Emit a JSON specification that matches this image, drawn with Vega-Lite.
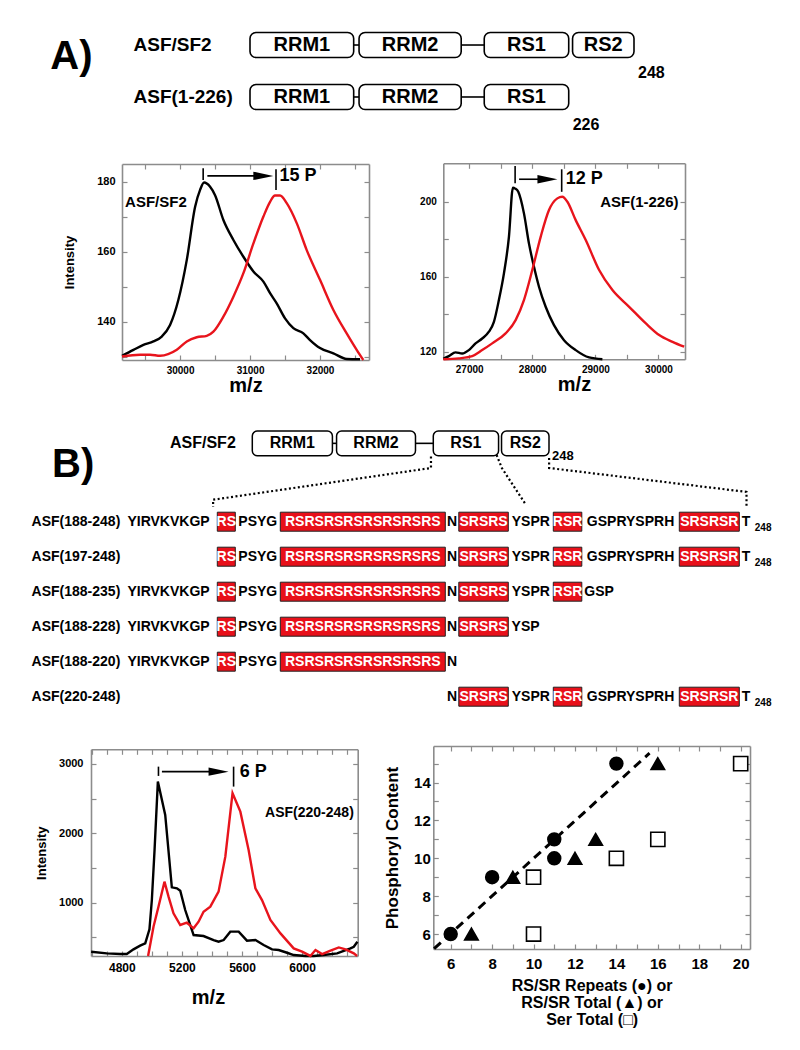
{
  "$schema": "https://vega.github.io/schema/vega-lite/v6.json",
  "width": 800,
  "height": 1050,
  "autosize": {"type": "none"},
  "padding": 0,
  "background": "white",
  "config": {
    "view": {"stroke": null},
    "font": "Liberation Sans",
    "axis": {
      "labelFont": "Liberation Sans", "labelFontWeight": "bold", "labelColor": "black", "labelFontSize": 10,
      "titleFont": "Liberation Sans", "titleFontWeight": "bold", "titleColor": "black",
      "domainColor": "#8c8c8c", "domainWidth": 1.6, "tickColor": "#8c8c8c", "tickWidth": 1.2, "tickSize": -5,
      "grid": false, "labelOverlap": false, "labelFlush": false
    },
    "text": {"font": "Liberation Sans", "fontWeight": "bold", "color": "black"}
  },
  "datasets": {
    "domains": [
      {"protein": "ASF/SF2", "domain": "RRM1", "from": 0, "to": 27},
      {"protein": "ASF/SF2", "domain": "RRM2", "from": 28.4, "to": 55},
      {"protein": "ASF/SF2", "domain": "RS1", "from": 61, "to": 83},
      {"protein": "ASF/SF2", "domain": "RS2", "from": 84, "to": 100},
      {"protein": "ASF(1-226)", "domain": "RRM1", "from": 0, "to": 27},
      {"protein": "ASF(1-226)", "domain": "RRM2", "from": 28.4, "to": 55},
      {"protein": "ASF(1-226)", "domain": "RS1", "from": 61, "to": 83}
    ],
    "linkers": [
      {"protein": "ASF/SF2", "from": 27, "to": 28.4},
      {"protein": "ASF/SF2", "from": 55, "to": 61},
      {"protein": "ASF(1-226)", "from": 27, "to": 28.4},
      {"protein": "ASF(1-226)", "from": 55, "to": 61}
    ],
    "termini": [
      {"protein": "ASF/SF2", "end": 100, "label": "248"},
      {"protein": "ASF(1-226)", "end": 83, "label": "226"}
    ],
    "segments": [
      {"construct": "ASF(188-248)", "seq": "YIRVKVKGP", "from": 188, "to": 197, "kind": "other"},
      {"construct": "ASF(188-248)", "seq": "RS", "from": 197, "to": 199, "kind": "repeat"},
      {"construct": "ASF(188-248)", "seq": "PSYG", "from": 199, "to": 203, "kind": "other"},
      {"construct": "ASF(188-248)", "seq": "RSRSRSRSRSRSRSRS", "from": 203, "to": 219, "kind": "repeat"},
      {"construct": "ASF(188-248)", "seq": "N", "from": 219, "to": 220, "kind": "other"},
      {"construct": "ASF(188-248)", "seq": "SRSRS", "from": 220, "to": 225, "kind": "repeat"},
      {"construct": "ASF(188-248)", "seq": "YSPR", "from": 225, "to": 229, "kind": "other"},
      {"construct": "ASF(188-248)", "seq": "RSR", "from": 229, "to": 232, "kind": "repeat"},
      {"construct": "ASF(188-248)", "seq": "GSPRYSPRH", "from": 232, "to": 241, "kind": "other"},
      {"construct": "ASF(188-248)", "seq": "SRSRSR", "from": 241, "to": 247, "kind": "repeat"},
      {"construct": "ASF(188-248)", "seq": "T", "from": 247, "to": 248, "kind": "other"},
      {"construct": "ASF(197-248)", "seq": "RS", "from": 197, "to": 199, "kind": "repeat"},
      {"construct": "ASF(197-248)", "seq": "PSYG", "from": 199, "to": 203, "kind": "other"},
      {"construct": "ASF(197-248)", "seq": "RSRSRSRSRSRSRSRS", "from": 203, "to": 219, "kind": "repeat"},
      {"construct": "ASF(197-248)", "seq": "N", "from": 219, "to": 220, "kind": "other"},
      {"construct": "ASF(197-248)", "seq": "SRSRS", "from": 220, "to": 225, "kind": "repeat"},
      {"construct": "ASF(197-248)", "seq": "YSPR", "from": 225, "to": 229, "kind": "other"},
      {"construct": "ASF(197-248)", "seq": "RSR", "from": 229, "to": 232, "kind": "repeat"},
      {"construct": "ASF(197-248)", "seq": "GSPRYSPRH", "from": 232, "to": 241, "kind": "other"},
      {"construct": "ASF(197-248)", "seq": "SRSRSR", "from": 241, "to": 247, "kind": "repeat"},
      {"construct": "ASF(197-248)", "seq": "T", "from": 247, "to": 248, "kind": "other"},
      {"construct": "ASF(188-235)", "seq": "YIRVKVKGP", "from": 188, "to": 197, "kind": "other"},
      {"construct": "ASF(188-235)", "seq": "RS", "from": 197, "to": 199, "kind": "repeat"},
      {"construct": "ASF(188-235)", "seq": "PSYG", "from": 199, "to": 203, "kind": "other"},
      {"construct": "ASF(188-235)", "seq": "RSRSRSRSRSRSRSRS", "from": 203, "to": 219, "kind": "repeat"},
      {"construct": "ASF(188-235)", "seq": "N", "from": 219, "to": 220, "kind": "other"},
      {"construct": "ASF(188-235)", "seq": "SRSRS", "from": 220, "to": 225, "kind": "repeat"},
      {"construct": "ASF(188-235)", "seq": "YSPR", "from": 225, "to": 229, "kind": "other"},
      {"construct": "ASF(188-235)", "seq": "RSR", "from": 229, "to": 232, "kind": "repeat"},
      {"construct": "ASF(188-235)", "seq": "GSP", "from": 232, "to": 235, "kind": "other"},
      {"construct": "ASF(188-228)", "seq": "YIRVKVKGP", "from": 188, "to": 197, "kind": "other"},
      {"construct": "ASF(188-228)", "seq": "RS", "from": 197, "to": 199, "kind": "repeat"},
      {"construct": "ASF(188-228)", "seq": "PSYG", "from": 199, "to": 203, "kind": "other"},
      {"construct": "ASF(188-228)", "seq": "RSRSRSRSRSRSRSRS", "from": 203, "to": 219, "kind": "repeat"},
      {"construct": "ASF(188-228)", "seq": "N", "from": 219, "to": 220, "kind": "other"},
      {"construct": "ASF(188-228)", "seq": "SRSRS", "from": 220, "to": 225, "kind": "repeat"},
      {"construct": "ASF(188-228)", "seq": "YSP", "from": 225, "to": 228, "kind": "other"},
      {"construct": "ASF(188-220)", "seq": "YIRVKVKGP", "from": 188, "to": 197, "kind": "other"},
      {"construct": "ASF(188-220)", "seq": "RS", "from": 197, "to": 199, "kind": "repeat"},
      {"construct": "ASF(188-220)", "seq": "PSYG", "from": 199, "to": 203, "kind": "other"},
      {"construct": "ASF(188-220)", "seq": "RSRSRSRSRSRSRSRS", "from": 203, "to": 219, "kind": "repeat"},
      {"construct": "ASF(188-220)", "seq": "N", "from": 219, "to": 220, "kind": "other"},
      {"construct": "ASF(220-248)", "seq": "N", "from": 219, "to": 220, "kind": "other"},
      {"construct": "ASF(220-248)", "seq": "SRSRS", "from": 220, "to": 225, "kind": "repeat"},
      {"construct": "ASF(220-248)", "seq": "YSPR", "from": 225, "to": 229, "kind": "other"},
      {"construct": "ASF(220-248)", "seq": "RSR", "from": 229, "to": 232, "kind": "repeat"},
      {"construct": "ASF(220-248)", "seq": "GSPRYSPRH", "from": 232, "to": 241, "kind": "other"},
      {"construct": "ASF(220-248)", "seq": "SRSRSR", "from": 241, "to": 247, "kind": "repeat"},
      {"construct": "ASF(220-248)", "seq": "T", "from": 247, "to": 248, "kind": "other"}
    ],
    "subscripts": [
      {"construct": "ASF(188-248)", "pos": 248, "label": "248"},
      {"construct": "ASF(197-248)", "pos": 248, "label": "248"},
      {"construct": "ASF(220-248)", "pos": 248, "label": "248"}
    ],
    "connectors": [
      {"path": 1, "step": 1, "pos": 217.35, "level": 0.03},
      {"path": 1, "step": 2, "pos": 217.35, "level": 0.25},
      {"path": 1, "step": 3, "pos": 196.6, "level": 0.86},
      {"path": 1, "step": 4, "pos": 196.6, "level": 1.0},
      {"path": 2, "step": 1, "pos": 223.6, "level": 0.0},
      {"path": 2, "step": 2, "pos": 224.1, "level": 0.25},
      {"path": 2, "step": 3, "pos": 226.3, "level": 0.93},
      {"path": 3, "step": 1, "pos": 228.6, "level": 0.06},
      {"path": 3, "step": 2, "pos": 228.6, "level": 0.25},
      {"path": 3, "step": 3, "pos": 247.4, "level": 0.71},
      {"path": 3, "step": 4, "pos": 247.4, "level": 1.0}
    ],
    "msFull": [
      {"mz": 29170, "intensity": 130.2, "series": "unphosphorylated"},
      {"mz": 29334, "intensity": 131.9, "series": "unphosphorylated"},
      {"mz": 29476, "intensity": 133.3, "series": "unphosphorylated"},
      {"mz": 29619, "intensity": 134.3, "series": "unphosphorylated"},
      {"mz": 29738, "intensity": 135.7, "series": "unphosphorylated"},
      {"mz": 29857, "intensity": 139.0, "series": "unphosphorylated"},
      {"mz": 29976, "intensity": 146.2, "series": "unphosphorylated"},
      {"mz": 30096, "intensity": 157.6, "series": "unphosphorylated"},
      {"mz": 30215, "intensity": 172.8, "series": "unphosphorylated"},
      {"mz": 30286, "intensity": 177.6, "series": "unphosphorylated"},
      {"mz": 30343, "intensity": 179.7, "series": "unphosphorylated"},
      {"mz": 30429, "intensity": 178.5, "series": "unphosphorylated"},
      {"mz": 30500, "intensity": 176.1, "series": "unphosphorylated"},
      {"mz": 30619, "intensity": 169.0, "series": "unphosphorylated"},
      {"mz": 30762, "intensity": 163.3, "series": "unphosphorylated"},
      {"mz": 30905, "intensity": 158.5, "series": "unphosphorylated"},
      {"mz": 31048, "intensity": 154.3, "series": "unphosphorylated"},
      {"mz": 31191, "intensity": 151.4, "series": "unphosphorylated"},
      {"mz": 31286, "intensity": 148.1, "series": "unphosphorylated"},
      {"mz": 31381, "intensity": 145.2, "series": "unphosphorylated"},
      {"mz": 31500, "intensity": 140.9, "series": "unphosphorylated"},
      {"mz": 31619, "intensity": 138.1, "series": "unphosphorylated"},
      {"mz": 31762, "intensity": 136.6, "series": "unphosphorylated"},
      {"mz": 31857, "intensity": 134.7, "series": "unphosphorylated"},
      {"mz": 32000, "intensity": 132.4, "series": "unphosphorylated"},
      {"mz": 32191, "intensity": 130.9, "series": "unphosphorylated"},
      {"mz": 32381, "intensity": 129.3, "series": "unphosphorylated"},
      {"mz": 32572, "intensity": 129.2, "series": "unphosphorylated"},
      {"mz": 29170, "intensity": 130.0, "series": "phosphorylated"},
      {"mz": 29429, "intensity": 130.5, "series": "phosphorylated"},
      {"mz": 29572, "intensity": 130.5, "series": "phosphorylated"},
      {"mz": 29715, "intensity": 130.2, "series": "phosphorylated"},
      {"mz": 29953, "intensity": 131.9, "series": "phosphorylated"},
      {"mz": 30096, "intensity": 134.3, "series": "phosphorylated"},
      {"mz": 30238, "intensity": 135.5, "series": "phosphorylated"},
      {"mz": 30381, "intensity": 135.9, "series": "phosphorylated"},
      {"mz": 30476, "intensity": 137.1, "series": "phosphorylated"},
      {"mz": 30619, "intensity": 141.4, "series": "phosphorylated"},
      {"mz": 30762, "intensity": 147.1, "series": "phosphorylated"},
      {"mz": 30905, "intensity": 153.8, "series": "phosphorylated"},
      {"mz": 31048, "intensity": 162.3, "series": "phosphorylated"},
      {"mz": 31191, "intensity": 170.0, "series": "phosphorylated"},
      {"mz": 31286, "intensity": 174.2, "series": "phosphorylated"},
      {"mz": 31357, "intensity": 176.0, "series": "phosphorylated"},
      {"mz": 31429, "intensity": 176.0, "series": "phosphorylated"},
      {"mz": 31524, "intensity": 173.8, "series": "phosphorylated"},
      {"mz": 31667, "intensity": 168.1, "series": "phosphorylated"},
      {"mz": 31810, "intensity": 160.4, "series": "phosphorylated"},
      {"mz": 32000, "intensity": 151.9, "series": "phosphorylated"},
      {"mz": 32191, "intensity": 143.3, "series": "phosphorylated"},
      {"mz": 32381, "intensity": 136.6, "series": "phosphorylated"},
      {"mz": 32524, "intensity": 131.9, "series": "phosphorylated"},
      {"mz": 32619, "intensity": 129.0, "series": "phosphorylated"}
    ],
    "ms226": [
      {"mz": 26590, "intensity": 116.3, "series": "unphosphorylated"},
      {"mz": 26678, "intensity": 117.7, "series": "unphosphorylated"},
      {"mz": 26784, "intensity": 119.7, "series": "unphosphorylated"},
      {"mz": 26889, "intensity": 119.1, "series": "unphosphorylated"},
      {"mz": 26995, "intensity": 120.9, "series": "unphosphorylated"},
      {"mz": 27101, "intensity": 124.5, "series": "unphosphorylated"},
      {"mz": 27206, "intensity": 127.1, "series": "unphosphorylated"},
      {"mz": 27313, "intensity": 130.7, "series": "unphosphorylated"},
      {"mz": 27392, "intensity": 136.0, "series": "unphosphorylated"},
      {"mz": 27471, "intensity": 147.6, "series": "unphosphorylated"},
      {"mz": 27551, "intensity": 161.8, "series": "unphosphorylated"},
      {"mz": 27630, "intensity": 181.3, "series": "unphosphorylated"},
      {"mz": 27693, "intensity": 207.5, "series": "unphosphorylated"},
      {"mz": 27730, "intensity": 207.0, "series": "unphosphorylated"},
      {"mz": 27778, "intensity": 205.3, "series": "unphosphorylated"},
      {"mz": 27868, "intensity": 193.8, "series": "unphosphorylated"},
      {"mz": 27947, "intensity": 177.8, "series": "unphosphorylated"},
      {"mz": 28027, "intensity": 165.3, "series": "unphosphorylated"},
      {"mz": 28106, "intensity": 154.7, "series": "unphosphorylated"},
      {"mz": 28212, "intensity": 144.0, "series": "unphosphorylated"},
      {"mz": 28344, "intensity": 134.2, "series": "unphosphorylated"},
      {"mz": 28503, "intensity": 126.2, "series": "unphosphorylated"},
      {"mz": 28688, "intensity": 120.9, "series": "unphosphorylated"},
      {"mz": 28900, "intensity": 117.0, "series": "unphosphorylated"},
      {"mz": 29111, "intensity": 116.0, "series": "unphosphorylated"},
      {"mz": 26590, "intensity": 116.0, "series": "phosphorylated"},
      {"mz": 26836, "intensity": 116.5, "series": "phosphorylated"},
      {"mz": 27048, "intensity": 117.7, "series": "phosphorylated"},
      {"mz": 27206, "intensity": 120.9, "series": "phosphorylated"},
      {"mz": 27365, "intensity": 124.5, "series": "phosphorylated"},
      {"mz": 27577, "intensity": 129.8, "series": "phosphorylated"},
      {"mz": 27736, "intensity": 136.9, "series": "phosphorylated"},
      {"mz": 27868, "intensity": 147.6, "series": "phosphorylated"},
      {"mz": 28000, "intensity": 163.6, "series": "phosphorylated"},
      {"mz": 28133, "intensity": 181.3, "series": "phosphorylated"},
      {"mz": 28265, "intensity": 195.6, "series": "phosphorylated"},
      {"mz": 28397, "intensity": 201.8, "series": "phosphorylated"},
      {"mz": 28476, "intensity": 202.7, "series": "phosphorylated"},
      {"mz": 28556, "intensity": 200.0, "series": "phosphorylated"},
      {"mz": 28688, "intensity": 190.2, "series": "phosphorylated"},
      {"mz": 28847, "intensity": 179.6, "series": "phosphorylated"},
      {"mz": 29059, "intensity": 163.6, "series": "phosphorylated"},
      {"mz": 29270, "intensity": 152.9, "series": "phosphorylated"},
      {"mz": 29535, "intensity": 144.0, "series": "phosphorylated"},
      {"mz": 29800, "intensity": 135.1, "series": "phosphorylated"},
      {"mz": 30011, "intensity": 128.9, "series": "phosphorylated"},
      {"mz": 30222, "intensity": 125.3, "series": "phosphorylated"},
      {"mz": 30407, "intensity": 122.7, "series": "phosphorylated"}
    ],
    "ms220": [
      {"mz": 4596, "intensity": 293, "series": "unphosphorylated"},
      {"mz": 4700, "intensity": 269, "series": "unphosphorylated"},
      {"mz": 4789, "intensity": 259, "series": "unphosphorylated"},
      {"mz": 4833, "intensity": 259, "series": "unphosphorylated"},
      {"mz": 4878, "intensity": 327, "series": "unphosphorylated"},
      {"mz": 4922, "intensity": 380, "series": "unphosphorylated"},
      {"mz": 4956, "intensity": 413, "series": "unphosphorylated"},
      {"mz": 4984, "intensity": 615, "series": "unphosphorylated"},
      {"mz": 5000, "intensity": 1038, "series": "unphosphorylated"},
      {"mz": 5018, "intensity": 1760, "series": "unphosphorylated"},
      {"mz": 5040, "intensity": 2746, "series": "unphosphorylated"},
      {"mz": 5089, "intensity": 2266, "series": "unphosphorylated"},
      {"mz": 5133, "intensity": 1221, "series": "unphosphorylated"},
      {"mz": 5167, "intensity": 1207, "series": "unphosphorylated"},
      {"mz": 5189, "intensity": 1173, "series": "unphosphorylated"},
      {"mz": 5222, "intensity": 894, "series": "unphosphorylated"},
      {"mz": 5278, "intensity": 533, "series": "unphosphorylated"},
      {"mz": 5344, "intensity": 519, "series": "unphosphorylated"},
      {"mz": 5411, "intensity": 461, "series": "unphosphorylated"},
      {"mz": 5444, "intensity": 437, "series": "unphosphorylated"},
      {"mz": 5478, "intensity": 461, "series": "unphosphorylated"},
      {"mz": 5522, "intensity": 582, "series": "unphosphorylated"},
      {"mz": 5578, "intensity": 582, "series": "unphosphorylated"},
      {"mz": 5633, "intensity": 452, "series": "unphosphorylated"},
      {"mz": 5689, "intensity": 461, "series": "unphosphorylated"},
      {"mz": 5744, "intensity": 389, "series": "unphosphorylated"},
      {"mz": 5800, "intensity": 327, "series": "unphosphorylated"},
      {"mz": 5844, "intensity": 317, "series": "unphosphorylated"},
      {"mz": 5900, "intensity": 278, "series": "unphosphorylated"},
      {"mz": 5944, "intensity": 245, "series": "unphosphorylated"},
      {"mz": 6022, "intensity": 232, "series": "unphosphorylated"},
      {"mz": 6078, "intensity": 232, "series": "unphosphorylated"},
      {"mz": 6144, "intensity": 245, "series": "unphosphorylated"},
      {"mz": 6233, "intensity": 269, "series": "unphosphorylated"},
      {"mz": 6322, "intensity": 341, "series": "unphosphorylated"},
      {"mz": 6344, "intensity": 365, "series": "unphosphorylated"},
      {"mz": 6368, "intensity": 437, "series": "unphosphorylated"},
      {"mz": 4975, "intensity": 232, "series": "phosphorylated"},
      {"mz": 5011, "intensity": 654, "series": "phosphorylated"},
      {"mz": 5044, "intensity": 942, "series": "phosphorylated"},
      {"mz": 5084, "intensity": 1303, "series": "phosphorylated"},
      {"mz": 5111, "intensity": 1087, "series": "phosphorylated"},
      {"mz": 5144, "intensity": 846, "series": "phosphorylated"},
      {"mz": 5189, "intensity": 678, "series": "phosphorylated"},
      {"mz": 5233, "intensity": 711, "series": "phosphorylated"},
      {"mz": 5278, "intensity": 630, "series": "phosphorylated"},
      {"mz": 5311, "intensity": 726, "series": "phosphorylated"},
      {"mz": 5344, "intensity": 870, "series": "phosphorylated"},
      {"mz": 5389, "intensity": 942, "series": "phosphorylated"},
      {"mz": 5444, "intensity": 1159, "series": "phosphorylated"},
      {"mz": 5489, "intensity": 1664, "series": "phosphorylated"},
      {"mz": 5537, "intensity": 2579, "series": "phosphorylated"},
      {"mz": 5589, "intensity": 2313, "series": "phosphorylated"},
      {"mz": 5644, "intensity": 1760, "series": "phosphorylated"},
      {"mz": 5689, "intensity": 1207, "series": "phosphorylated"},
      {"mz": 5733, "intensity": 1038, "series": "phosphorylated"},
      {"mz": 5789, "intensity": 750, "series": "phosphorylated"},
      {"mz": 5856, "intensity": 557, "series": "phosphorylated"},
      {"mz": 5944, "intensity": 341, "series": "phosphorylated"},
      {"mz": 6000, "intensity": 293, "series": "phosphorylated"},
      {"mz": 6055, "intensity": 232, "series": "phosphorylated"},
      {"mz": 6089, "intensity": 317, "series": "phosphorylated"},
      {"mz": 6133, "intensity": 259, "series": "phosphorylated"},
      {"mz": 6189, "intensity": 307, "series": "phosphorylated"},
      {"mz": 6244, "intensity": 355, "series": "phosphorylated"},
      {"mz": 6289, "intensity": 327, "series": "phosphorylated"},
      {"mz": 6344, "intensity": 269, "series": "phosphorylated"},
      {"mz": 6366, "intensity": 232, "series": "phosphorylated"}
    ],
    "phospho": [
      {"count": 6, "phos": 6, "measure": "RS/SR repeats"},
      {"count": 8, "phos": 9, "measure": "RS/SR repeats"},
      {"count": 11, "phos": 10, "measure": "RS/SR repeats"},
      {"count": 11, "phos": 11, "measure": "RS/SR repeats"},
      {"count": 14, "phos": 15, "measure": "RS/SR repeats"},
      {"count": 7, "phos": 6, "measure": "RS/SR total"},
      {"count": 9, "phos": 9, "measure": "RS/SR total"},
      {"count": 12, "phos": 10, "measure": "RS/SR total"},
      {"count": 13, "phos": 11, "measure": "RS/SR total"},
      {"count": 16, "phos": 15, "measure": "RS/SR total"},
      {"count": 10, "phos": 6, "measure": "Ser total"},
      {"count": 10, "phos": 9, "measure": "Ser total"},
      {"count": 14, "phos": 10, "measure": "Ser total"},
      {"count": 16, "phos": 11, "measure": "Ser total"},
      {"count": 20, "phos": 15, "measure": "Ser total"}
    ]
  },
  "layer": [
    {
      "data": {"name": "domains"},
      "encoding": {
        "y": {"field": "protein", "type": "nominal",
          "scale": {"domain": ["ASF/SF2", "ASF(1-226)"], "range": [19, 123], "paddingInner": 0.519, "paddingOuter": 0.26},
          "axis": {"orient": "left", "offset": -250, "domain": false, "ticks": false, "labelAlign": "left", "labelPadding": 117, "labelFontSize": 19, "title": null}}
      },
      "layer": [
        {"data": {"name": "linkers"}, "mark": {"type": "rule", "strokeWidth": 1.6, "color": "black"},
          "encoding": {"x": {"field": "from", "type": "quantitative", "scale": {"domain": [0, 100], "range": [250, 634], "zero": false, "nice": false}, "axis": null}, "x2": {"field": "to"}}},
        {"mark": {"type": "rect", "cornerRadius": 6, "fill": "white", "stroke": "black", "strokeWidth": 1.6},
          "encoding": {"x": {"field": "from", "type": "quantitative", "axis": null}, "x2": {"field": "to"}}},
        {"transform": [{"fold": ["from", "to"], "as": ["edge", "pos"]}],
          "mark": {"type": "text", "fontSize": 20},
          "encoding": {"x": {"aggregate": "mean", "field": "pos", "type": "quantitative", "axis": null}, "text": {"field": "domain"}}},
        {"data": {"name": "termini"}, "mark": {"type": "text", "align": "left", "dx": 4, "dy": 28, "fontSize": 16},
          "encoding": {"x": {"field": "end", "type": "quantitative", "axis": null}, "text": {"field": "label"}}},
        {"data": {"values": [{"panel": "A)"}]}, "mark": {"type": "text", "align": "left", "dy": 12, "fontSize": 40},
          "encoding": {"x": {"datum": -52, "type": "quantitative", "axis": null}, "y": {"datum": "ASF/SF2", "type": "nominal"}, "text": {"field": "panel"}}}
      ]
    },
    {
      "layer": [
        {"data": {"name": "msFull"}, "mark": {"type": "line", "strokeWidth": 2.4, "interpolate": "monotone"},
          "encoding": {
            "x": {"field": "mz", "type": "quantitative", "scale": {"domain": [29170, 32700], "range": [122, 369], "zero": false, "nice": false},
              "axis": {"orient": "bottom", "offset": -690, "values": [29500, 30000, 30500, 31000, 31500, 32000, 32500], "format": "d", "labelExpr": "datum.value % 1000 === 0 ? datum.label : ''", "labelPadding": 10, "labelFontSize": 10, "title": "m/z", "titleFontSize": 20, "titlePadding": 0}},
            "y": {"field": "intensity", "type": "quantitative", "scale": {"domain": [129, 185], "range": [360, 164], "zero": false, "nice": false},
              "axis": {"orient": "left", "offset": -122, "values": [130, 140, 150, 160, 170, 180], "format": "d", "labelExpr": "datum.value % 20 === 0 ? datum.label : ''", "labelPadding": 12, "labelFontSize": 11, "title": "Intensity", "titleFontSize": 13, "titlePadding": 20}},
            "color": {"field": "series", "type": "nominal", "scale": {"domain": ["unphosphorylated", "phosphorylated"], "range": ["black", "#e8141c"]}, "legend": null}
          }},
        {"data": {"values": [{"mz": 30330, "lo": 180.4, "hi": 183.8}, {"mz": 31371, "lo": 177.6, "hi": 183.5}]},
          "mark": {"type": "rule", "strokeWidth": 1.6, "color": "black"},
          "encoding": {
            "x": {"field": "mz", "type": "quantitative", "axis": {"orient": "top", "offset": -164, "values": [29500, 30000, 30500, 31000, 31500, 32000, 32500], "labels": false, "title": null}},
            "y": {"field": "lo", "type": "quantitative", "axis": {"orient": "right", "offset": -431, "values": [130, 140, 150, 160, 170, 180], "labels": false, "title": null}},
            "y2": {"field": "hi"}}},
        {"data": {"values": [{"from": 30390, "to": 31190, "level": 181.6}]},
          "layer": [
            {"mark": {"type": "rule", "strokeWidth": 1.6, "color": "black"},
              "encoding": {"x": {"field": "from", "type": "quantitative", "axis": null}, "x2": {"field": "to"}, "y": {"field": "level", "type": "quantitative", "axis": null}}},
            {"mark": {"type": "point", "shape": "M-1,-0.42L1,0L-1,0.42Z", "filled": true, "color": "black", "size": 400, "opacity": 1},
              "encoding": {"x": {"field": "to", "type": "quantitative", "axis": null}, "y": {"field": "level", "type": "quantitative", "axis": null}}}
          ]},
        {"data": {"values": [{"mz": 31420, "level": 181.6, "label": "15 P", "size": "big"}, {"mz": 29214, "level": 174.2, "label": "ASF/SF2", "size": "small"}]},
          "mark": {"type": "text", "align": "left", "baseline": "middle"},
          "encoding": {"x": {"field": "mz", "type": "quantitative", "axis": null}, "y": {"field": "level", "type": "quantitative", "axis": null}, "text": {"field": "label"},
            "size": {"field": "size", "type": "nominal", "scale": {"domain": ["big", "small"], "range": [18, 15]}, "legend": null}}}
      ],
      "resolve": {"axis": {"x": "independent", "y": "independent"}}
    },
    {
      "layer": [
        {"data": {"name": "ms226"}, "mark": {"type": "line", "strokeWidth": 2.4, "interpolate": "monotone"},
          "encoding": {
            "x": {"field": "mz", "type": "quantitative", "scale": {"domain": [26590, 30420], "range": [443.3, 685], "zero": false, "nice": false},
              "axis": {"orient": "bottom", "offset": -690.7, "values": [27000, 27500, 28000, 28500, 29000, 29500, 30000], "format": "d", "labelExpr": "datum.value % 1000 === 0 ? datum.label : ''", "labelPadding": 10, "labelFontSize": 10, "title": "m/z", "titleFontSize": 20, "titlePadding": 0, "titleX": 574}},
            "y": {"field": "intensity", "type": "quantitative", "scale": {"domain": [116, 220.5], "range": [359.3, 163.3], "zero": false, "nice": false},
              "axis": {"orient": "left", "offset": -443.3, "values": [120, 140, 160, 180, 200], "format": "d", "labelExpr": "datum.value % 40 === 0 ? datum.label : ''", "labelPadding": 12, "labelFontSize": 10, "title": null}},
            "color": {"field": "series", "type": "nominal", "scale": {"domain": ["unphosphorylated", "phosphorylated"], "range": ["black", "#e8141c"]}, "legend": null}
          }},
        {"data": {"values": [{"mz": 27728, "lo": 209.8, "hi": 219}, {"mz": 28466, "lo": 205.3, "hi": 217.3}]},
          "mark": {"type": "rule", "strokeWidth": 1.6, "color": "black"},
          "encoding": {
            "x": {"field": "mz", "type": "quantitative", "axis": {"orient": "top", "offset": -163.3, "values": [27000, 27500, 28000, 28500, 29000, 29500, 30000], "labels": false, "title": null}},
            "y": {"field": "lo", "type": "quantitative", "axis": {"orient": "right", "offset": -115, "values": [120, 140, 160, 180, 200], "labels": false, "title": null}},
            "y2": {"field": "hi"}}},
        {"data": {"values": [{"from": 27791, "to": 28240, "level": 212}]},
          "layer": [
            {"mark": {"type": "rule", "strokeWidth": 1.6, "color": "black"},
              "encoding": {"x": {"field": "from", "type": "quantitative", "axis": null}, "x2": {"field": "to"}, "y": {"field": "level", "type": "quantitative", "axis": null}}},
            {"mark": {"type": "point", "shape": "M-1,-0.42L1,0L-1,0.42Z", "filled": true, "color": "black", "size": 400, "opacity": 1},
              "encoding": {"x": {"field": "to", "type": "quantitative", "axis": null}, "y": {"field": "level", "type": "quantitative", "axis": null}}}
          ]},
        {"data": {"values": [{"mz": 28529, "level": 212, "label": "12 P"}]},
          "mark": {"type": "text", "align": "left", "baseline": "middle", "fontSize": 18},
          "encoding": {"x": {"field": "mz", "type": "quantitative", "axis": null}, "y": {"field": "level", "type": "quantitative", "axis": null}, "text": {"field": "label"}}},
        {"data": {"values": [{"mz": 30317, "level": 200, "label": "ASF(1-226)"}]},
          "mark": {"type": "text", "align": "right", "baseline": "middle", "fontSize": 15},
          "encoding": {"x": {"field": "mz", "type": "quantitative", "axis": null}, "y": {"field": "level", "type": "quantitative", "axis": null}, "text": {"field": "label"}}}
      ],
      "resolve": {"axis": {"x": "independent", "y": "independent"}}
    },
    {
      "data": {"name": "domains"},
      "transform": [{"filter": "datum.protein === 'ASF/SF2'"}],
      "encoding": {
        "y": {"field": "protein", "type": "nominal",
          "scale": {"domain": ["ASF/SF2"], "range": [431, 455.7], "paddingInner": 0, "paddingOuter": 0},
          "axis": {"orient": "left", "offset": -252.3, "domain": false, "ticks": false, "labelPadding": 17, "labelFontSize": 16, "title": null}}
      },
      "layer": [
        {"data": {"name": "linkers"}, "transform": [{"filter": "datum.protein === 'ASF/SF2'"}], "mark": {"type": "rule", "strokeWidth": 1.6, "color": "black"},
          "encoding": {"x": {"field": "from", "type": "quantitative", "scale": {"domain": [0, 100], "range": [252.3, 549], "zero": false, "nice": false}, "axis": null}, "x2": {"field": "to"}}},
        {"mark": {"type": "rect", "cornerRadius": 5, "fill": "white", "stroke": "black", "strokeWidth": 1.5},
          "encoding": {"x": {"field": "from", "type": "quantitative", "axis": null}, "x2": {"field": "to"}}},
        {"transform": [{"fold": ["from", "to"], "as": ["edge", "pos"]}],
          "mark": {"type": "text", "fontSize": 16},
          "encoding": {"x": {"aggregate": "mean", "field": "pos", "type": "quantitative", "axis": null}, "text": {"field": "domain"}}},
        {"data": {"name": "termini"}, "transform": [{"filter": "datum.protein === 'ASF/SF2'"}], "mark": {"type": "text", "align": "left", "dx": 3, "dy": 13, "fontSize": 13},
          "encoding": {"x": {"field": "end", "type": "quantitative", "axis": null}, "text": {"field": "label"}}},
        {"data": {"values": [{"panel": "B)"}]}, "mark": {"type": "text", "align": "left", "dy": 22, "fontSize": 40},
          "encoding": {"x": {"datum": -67.5, "type": "quantitative", "axis": null}, "y": {"datum": "ASF/SF2", "type": "nominal"}, "text": {"field": "panel"}}}
      ]
    },
    {
      "data": {"name": "connectors"},
      "mark": {"type": "line", "strokeDash": [2, 2.5], "strokeWidth": 2.2, "color": "black"},
      "encoding": {
        "x": {"field": "pos", "type": "quantitative", "scale": {"domain": [188, 248], "range": [122.8, 752.8], "zero": false, "nice": false}, "axis": null},
        "y": {"field": "level", "type": "quantitative", "scale": {"domain": [0, 1], "range": [455, 507], "zero": false, "nice": false}, "axis": null},
        "detail": {"field": "path", "type": "nominal"},
        "order": {"field": "step", "type": "quantitative"}
      }
    },
    {
      "data": {"name": "segments"},
      "encoding": {
        "y": {"field": "construct", "type": "nominal",
          "scale": {"domain": ["ASF(188-248)", "ASF(197-248)", "ASF(188-235)", "ASF(188-228)", "ASF(188-220)", "ASF(220-248)"], "range": [504.2, 714.2], "paddingInner": 0.457, "paddingOuter": 0.2286},
          "axis": {"orient": "left", "offset": -122.8, "domain": false, "ticks": false, "labelPadding": 3, "labelFontSize": 14, "title": null}}
      },
      "layer": [
        {"transform": [{"filter": "datum.kind === 'repeat'"}],
          "mark": {"type": "rect", "fill": "#e8101a", "stroke": "#222222", "strokeWidth": 1, "x2Offset": -3},
          "encoding": {"x": {"field": "from", "type": "quantitative", "scale": {"domain": [188, 248], "range": [122.8, 752.8], "zero": false, "nice": false}, "axis": null}, "x2": {"field": "to"}}},
        {"transform": [{"fold": ["from", "to"], "as": ["edge", "pos"]}],
          "mark": {"type": "text", "fontSize": 14, "dx": -1.5},
          "encoding": {"x": {"aggregate": "mean", "field": "pos", "type": "quantitative", "axis": null}, "text": {"field": "seq"},
            "color": {"field": "kind", "type": "nominal", "scale": {"domain": ["other", "repeat"], "range": ["black", "white"]}, "legend": null}}},
        {"data": {"name": "subscripts"}, "mark": {"type": "text", "align": "left", "dx": 2, "dy": 6, "fontSize": 10},
          "encoding": {"x": {"field": "pos", "type": "quantitative", "axis": null}, "text": {"field": "label"}}}
      ]
    },
    {
      "layer": [
        {"data": {"name": "ms220"}, "mark": {"type": "line", "strokeWidth": 2.4},
          "encoding": {
            "x": {"field": "mz", "type": "quantitative", "scale": {"domain": [4595, 6370], "range": [91, 357.7], "zero": false, "nice": false},
              "axis": {"orient": "bottom", "offset": -94, "values": [4600, 4700, 4800, 4900, 5000, 5100, 5200, 5300, 5400, 5500, 5600, 5700, 5800, 5900, 6000, 6100, 6200, 6300], "format": "d", "labelExpr": "datum.value % 400 === 0 ? datum.label : ''", "labelPadding": 11, "labelFontSize": 12, "title": "m/z", "titleFontSize": 20, "titlePadding": 14, "titleX": 208}},
            "y": {"field": "intensity", "type": "quantitative", "scale": {"domain": [231, 3212], "range": [956, 749.3], "zero": false, "nice": false},
              "axis": {"orient": "left", "offset": -91, "values": [500, 1000, 1500, 2000, 2500, 3000], "format": "d", "labelExpr": "datum.value % 1000 === 0 ? datum.label : ''", "labelPadding": 13, "labelFontSize": 11, "title": "Intensity", "titleFontSize": 13, "titlePadding": 10}},
            "color": {"field": "series", "type": "nominal", "scale": {"domain": ["unphosphorylated", "phosphorylated"], "range": ["black", "#e8141c"]}, "legend": null}
          }},
        {"data": {"values": [{"mz": 5044, "lo": 2828, "hi": 2962}, {"mz": 5544, "lo": 2674, "hi": 2962}]},
          "mark": {"type": "rule", "strokeWidth": 1.6, "color": "black"},
          "encoding": {
            "x": {"field": "mz", "type": "quantitative", "axis": {"orient": "top", "offset": -749.3, "values": [4600, 4700, 4800, 4900, 5000, 5100, 5200, 5300, 5400, 5500, 5600, 5700, 5800, 5900, 6000, 6100, 6200, 6300], "labels": false, "title": null}},
            "y": {"field": "lo", "type": "quantitative", "axis": {"orient": "right", "offset": -442.3, "values": [500, 1000, 1500, 2000, 2500, 3000], "labels": false, "title": null}},
            "y2": {"field": "hi"}}},
        {"data": {"values": [{"from": 5067, "to": 5444, "level": 2890}]},
          "layer": [
            {"mark": {"type": "rule", "strokeWidth": 1.6, "color": "black"},
              "encoding": {"x": {"field": "from", "type": "quantitative", "axis": null}, "x2": {"field": "to"}, "y": {"field": "level", "type": "quantitative", "axis": null}}},
            {"mark": {"type": "point", "shape": "M-1,-0.42L1,0L-1,0.42Z", "filled": true, "color": "black", "size": 400, "opacity": 1},
              "encoding": {"x": {"field": "to", "type": "quantitative", "axis": null}, "y": {"field": "level", "type": "quantitative", "axis": null}}}
          ]},
        {"data": {"values": [{"mz": 5585, "level": 2890, "label": "6 P"}]},
          "mark": {"type": "text", "align": "left", "baseline": "middle", "fontSize": 18},
          "encoding": {"x": {"field": "mz", "type": "quantitative", "axis": null}, "y": {"field": "level", "type": "quantitative", "axis": null}, "text": {"field": "label"}}},
        {"data": {"values": [{"mz": 6344, "level": 2290, "label": "ASF(220-248)"}]},
          "mark": {"type": "text", "align": "right", "baseline": "middle", "fontSize": 14},
          "encoding": {"x": {"field": "mz", "type": "quantitative", "axis": null}, "y": {"field": "level", "type": "quantitative", "axis": null}, "text": {"field": "label"}}}
      ],
      "resolve": {"axis": {"x": "independent", "y": "independent"}}
    },
    {
      "layer": [
        {"data": {"values": [{"count": 5.2, "phos": 5.23}, {"count": 15.6, "phos": 15.55}]},
          "mark": {"type": "line", "strokeDash": [9, 6], "strokeWidth": 3, "color": "black"},
          "encoding": {
            "x": {"field": "count", "type": "quantitative", "scale": {"domain": [5.16, 20.45], "range": [433.3, 750], "zero": false, "nice": false},
              "axis": {"orient": "bottom", "offset": -101, "values": [6, 7, 8, 9, 10, 11, 12, 13, 14, 15, 16, 17, 18, 19, 20], "format": "d", "labelExpr": "datum.value % 2 === 0 ? datum.label : ''", "labelPadding": 12, "labelFontSize": 15,
                "title": ["RS/SR Repeats (●) or", "RS/SR Total (▲) or", "Ser Total (□)"], "titleFontSize": 16, "titleLineHeight": 17, "titlePadding": 6}},
            "y": {"field": "phos", "type": "quantitative", "scale": {"domain": [5.21, 15.93], "range": [949, 746], "zero": false, "nice": false},
              "axis": {"orient": "left", "offset": -433.3, "values": [6, 7, 8, 9, 10, 11, 12, 13, 14, 15], "format": "d", "labelExpr": "datum.value % 2 === 0 ? datum.label : ''", "labelPadding": 8, "labelFontSize": 15, "title": "Phosphoryl Content", "titleFontSize": 17, "titlePadding": 12}}
          }},
        {"data": {"name": "phospho"},
          "mark": {"type": "point", "filled": true, "stroke": "black", "strokeWidth": 1.6, "opacity": 1},
          "encoding": {
            "x": {"field": "count", "type": "quantitative", "axis": {"orient": "top", "offset": -746, "values": [6, 7, 8, 9, 10, 11, 12, 13, 14, 15, 16, 17, 18, 19, 20], "labels": false, "title": null}},
            "y": {"field": "phos", "type": "quantitative", "axis": {"orient": "right", "offset": -50, "values": [6, 7, 8, 9, 10, 11, 12, 13, 14, 15], "labels": false, "title": null}},
            "shape": {"field": "measure", "type": "nominal", "scale": {"domain": ["RS/SR repeats", "RS/SR total", "Ser total"], "range": ["circle", "triangle-up", "square"]}, "legend": null},
            "fill": {"field": "measure", "type": "nominal", "scale": {"domain": ["RS/SR repeats", "RS/SR total", "Ser total"], "range": ["black", "black", "white"]}, "legend": null},
            "size": {"field": "measure", "type": "nominal", "scale": {"domain": ["RS/SR repeats", "RS/SR total", "Ser total"], "range": [165, 200, 185]}, "legend": null}
          }}
      ],
      "resolve": {"axis": {"x": "independent", "y": "independent"}}
    }
  ],
  "resolve": {
    "scale": {"x": "independent", "y": "independent", "color": "independent", "shape": "independent", "fill": "independent", "size": "independent"},
    "axis": {"x": "independent", "y": "independent"}
  }
}
